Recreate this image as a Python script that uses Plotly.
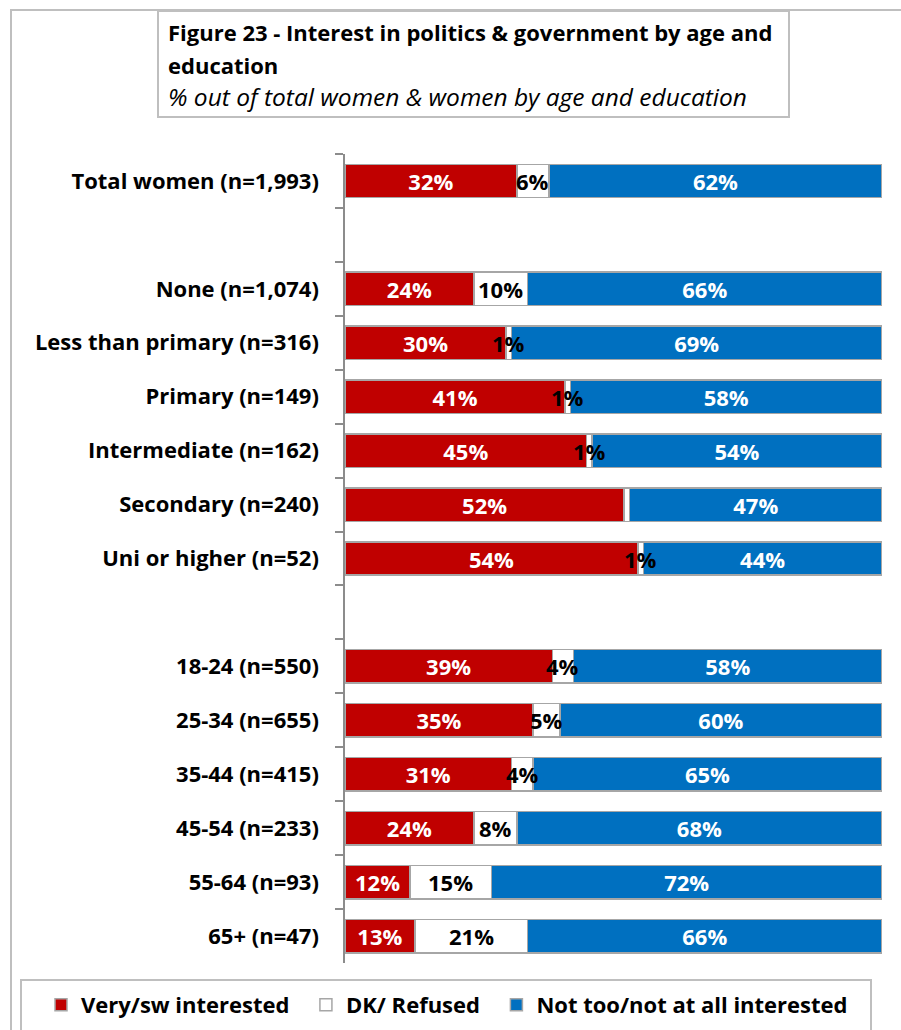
import plotly.graph_objects as go

# Survey breakdown: share of women by interest in politics & government
categories = [
    "Total women (n=1,993)", " ",
    "None (n=1,074)", "Less than primary (n=316)", "Primary (n=149)",
    "Intermediate (n=162)", "Secondary (n=240)", "Uni or higher (n=52)", "  ",
    "18-24 (n=550)", "25-34 (n=655)", "35-44 (n=415)", "45-54 (n=233)",
    "55-64 (n=93)", "65+ (n=47)",
]
interested = [32, None, 24, 30, 41, 45, 52, 54, None, 39, 35, 31, 24, 12, 13]
dk_refused = [6, None, 10, 1, 1, 1, 1, 1, None, 4, 5, 4, 8, 15, 21]
not_interested = [62, None, 66, 69, 58, 54, 47, 44, None, 58, 60, 65, 68, 72, 66]
# the DK share for "Secondary" carries no printed label
dk_label_hidden = [False, False, False, False, False, False, True, False,
                   False, False, False, False, False, False, False]

series_names = ["Very/sw interested", "DK/ Refused", "Not too/not at all interested"]
series_colors = ["#C00000", "#FFFFFF", "#0070C0"]
label_colors = ["#FFFFFF", "#000000", "#FFFFFF"]
# non-breaking padding after legend entries to space them out
legend_pad = [2, 2, 0]

title_line1 = "Figure 23 - Interest in politics & government by age and"
title_line2 = "education"
subtitle = "% out of total women & women by age and education"

FONT = "Open Sans"
FS = 22
W, H = 901, 1030
L, R, T, B = 345, 19, 154, 67
PW, PH = W - L - R, H - T - B


def fx(p):
    return (p - L) / PW


def fy(p):
    return 1 - (p - T) / PH


def pct_labels(values):
    return ["" if v is None else f"{v}%" for v in values]


fig = go.Figure()
all_series = [interested, dk_refused, not_interested]
for k, vals in enumerate(all_series):
    fig.add_trace(go.Bar(
        y=categories,
        x=vals,
        name=series_names[k] + "\u00a0" * legend_pad[k],
        orientation="h",
        marker=dict(color=series_colors[k], line=dict(color="#A6A6A6", width=1.5)),
        text=pct_labels(vals) if k != 1 else None,
        textposition="inside",
        insidetextanchor="middle",
        textangle=0,
        textfont=dict(family=FONT, size=FS, color=label_colors[k], weight="bold"),
        hoverinfo="skip",
    ))

annotations = []
# DK labels sit above every bar so narrow segments keep a readable label
for i, cat in enumerate(categories):
    if dk_refused[i] is None or dk_label_hidden[i]:
        continue
    row_total = interested[i] + dk_refused[i] + not_interested[i]
    annotations.append(dict(
        x=(interested[i] + dk_refused[i] / 2) / row_total * 100, y=cat,
        xref="x", yref="y", text=f"<b>{dk_refused[i]}%</b>", showarrow=False,
        xanchor="center", yanchor="middle",
        font=dict(family=FONT, size=FS, color="#000000"),
    ))

shapes = [
    # chart frame
    dict(type="rect", xref="paper", yref="paper",
         x0=fx(11), x1=fx(930), y0=fy(10), y1=fy(1060),
         line=dict(color="#BFBFBF", width=2), layer="below"),
    # title box
    dict(type="rect", xref="paper", yref="paper",
         x0=fx(158), x1=fx(789), y0=fy(11), y1=fy(117),
         line=dict(color="#BFBFBF", width=2), fillcolor="#FFFFFF", layer="below"),
    # legend box
    dict(type="rect", xref="paper", yref="paper",
         x0=fx(21), x1=fx(871), y0=fy(980), y1=fy(1060),
         line=dict(color="#BFBFBF", width=2), layer="below"),
]

annotations += [
    dict(text=f"<b>{title_line1}</b>", x=fx(166), y=fy(32), xref="paper", yref="paper",
         xanchor="left", yanchor="middle", showarrow=False,
         font=dict(family=FONT, size=FS, color="#000000")),
    dict(text=f"<b>{title_line2}</b>", x=fx(166), y=fy(65), xref="paper", yref="paper",
         xanchor="left", yanchor="middle", showarrow=False,
         font=dict(family=FONT, size=FS, color="#000000")),
    dict(text=f"<i>{subtitle}</i>", x=fx(166), y=fy(97), xref="paper", yref="paper",
         xanchor="left", yanchor="middle", showarrow=False,
         font=dict(family=FONT, size=24.5, color="#000000")),
]

fig.update_layout(
    width=W, height=H,
    margin=dict(l=L, r=R, t=T, b=B, pad=0, autoexpand=False),
    paper_bgcolor="#FFFFFF", plot_bgcolor="#FFFFFF",
    barmode="stack", barnorm="percent", bargap=0.38,
    uniformtext=dict(minsize=FS, mode="show"),
    showlegend=True,
    legend=dict(orientation="h", x=fx(41), y=fy(1005), xanchor="left", yanchor="middle",
                font=dict(family=FONT, size=FS, color="#000000", weight="bold"),
                traceorder="normal", bgcolor="rgba(0,0,0,0)"),
    shapes=shapes,
    annotations=annotations,
)
fig.update_xaxes(range=[0, 100], visible=False, fixedrange=True)
fig.update_yaxes(
    categoryorder="array", categoryarray=categories,
    range=[len(categories) - 0.5, -0.5],
    showline=True, linecolor="#8C8C8C", linewidth=1.5,
    ticks="outside", tickson="boundaries", ticklen=8, tickcolor="#8C8C8C", tickwidth=1.5,
    ticklabelstandoff=20,
    tickfont=dict(family=FONT, size=FS, color="#000000", weight="bold"),
    showgrid=False, zeroline=False, fixedrange=True,
)

fig.write_html("out.html")
